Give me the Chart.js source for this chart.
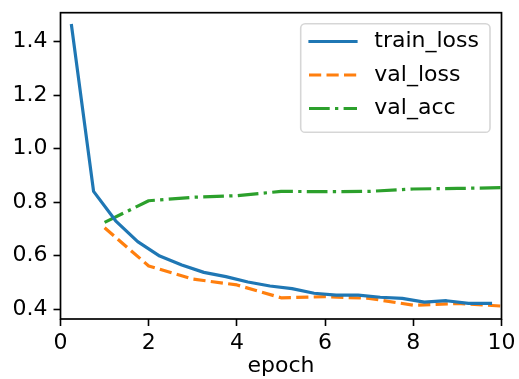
<!DOCTYPE html>
<html>
<head>
<meta charset="utf-8">
<script src="https://cdn.jsdelivr.net/npm/chart.js@4"></script>
<style>
  html, body { margin: 0; padding: 0; background: #ffffff; }
  canvas { display: block; }
</style>
</head>
<body>
<canvas id="c" width="519" height="379"></canvas>
<script>
// ---- data ----
const trainEpochs = [0.25, 0.75, 1.25, 1.75, 2.25, 2.75, 3.25, 3.75, 4.25, 4.75,
                     5.25, 5.75, 6.25, 6.75, 7.25, 7.75, 8.25, 8.75, 9.25, 9.75];
const trainLoss   = [1.46, 0.84, 0.73, 0.652, 0.598, 0.565, 0.537, 0.521, 0.501, 0.486,
                     0.476, 0.459, 0.452, 0.452, 0.444, 0.44, 0.426, 0.431, 0.421, 0.421];
const valEpochs   = [1, 2, 3, 4, 5, 6, 7, 8, 9, 10];
const valLoss     = [0.704, 0.561, 0.512, 0.49, 0.442, 0.446, 0.44, 0.414, 0.421, 0.411];
const valAcc      = [0.724, 0.805, 0.818, 0.824, 0.840, 0.839, 0.840, 0.849, 0.851, 0.854];
const seriesNames = ['train_loss', 'val_loss', 'val_acc'];
const xTicks = [0, 2, 4, 6, 8, 10];
const yTicks = [0.4, 0.6, 0.8, 1.0, 1.2, 1.4];
const xTitle = 'epoch';

const FONT = '"DejaVu Sans", sans-serif';
const pts = (xs, ys) => xs.map((x, i) => ({ x: x, y: ys[i] }));

const framePlugin = {
  id: 'frameAndLegend',
  afterDatasetsDraw(chart) {
    const ctx = chart.ctx, a = chart.chartArea;
    ctx.save();
    ctx.strokeStyle = '#000';
    ctx.lineWidth = 1.7;
    ctx.strokeRect(a.left, a.top, a.right - a.left, a.bottom - a.top);
    // legend (upper right)
    const bx = 300.7, by = 23.7, bw = 189.3, bh = 108.6, r = 4.4;
    ctx.beginPath();
    ctx.moveTo(bx + r, by);
    ctx.lineTo(bx + bw - r, by);
    ctx.arcTo(bx + bw, by, bx + bw, by + r, r);
    ctx.lineTo(bx + bw, by + bh - r);
    ctx.arcTo(bx + bw, by + bh, bx + bw - r, by + bh, r);
    ctx.lineTo(bx + r, by + bh);
    ctx.arcTo(bx, by + bh, bx, by + bh - r, r);
    ctx.lineTo(bx, by + r);
    ctx.arcTo(bx, by, bx + r, by, r);
    ctx.closePath();
    ctx.fillStyle = 'rgba(255,255,255,0.8)';
    ctx.fill();
    ctx.strokeStyle = 'rgba(204,204,204,0.8)';
    ctx.lineWidth = 1.6;
    ctx.stroke();
    const rows = [41.5, 75, 108.5];
    chart.data.datasets.forEach((ds, i) => {
      const y = rows[i];
      ctx.beginPath();
      ctx.setLineDash(ds.borderDash || []);
      ctx.lineCap = ds.borderCapStyle || 'butt';
      ctx.strokeStyle = ds.borderColor;
      ctx.lineWidth = ds.borderWidth;
      ctx.moveTo(ds.borderCapStyle === 'square' ? 310 : 309, y);
      ctx.lineTo(ds.borderCapStyle === 'square' ? 356 : 357, y);
      ctx.stroke();
      ctx.setLineDash([]);
      ctx.fillStyle = '#000';
      ctx.font = '22px ' + FONT;
      ctx.textBaseline = 'middle';
      ctx.textAlign = 'left';
      ctx.fillText(ds.label, 374.3, y);
    });
    ctx.restore();
  }
};

new Chart(document.getElementById('c'), {
  type: 'line',
  data: {
    datasets: [
      { label: seriesNames[0], data: pts(trainEpochs, trainLoss), borderColor: '#1f77b4',
        borderWidth: 3.2, borderCapStyle: 'square', borderJoinStyle: 'round', pointRadius: 0, fill: false },
      { label: seriesNames[1], data: pts(valEpochs, valLoss), borderColor: '#ff7f0e',
        borderWidth: 3.2, borderDash: [12.2, 5.3], borderCapStyle: 'butt', borderJoinStyle: 'round', pointRadius: 0, fill: false },
      { label: seriesNames[2], data: pts(valEpochs, valAcc), borderColor: '#2ca02c',
        borderWidth: 3.2, borderDash: [20.7, 5.3, 3.3, 5.3], borderCapStyle: 'butt', borderJoinStyle: 'round', pointRadius: 0, fill: false }
    ]
  },
  options: {
    responsive: false,
    devicePixelRatio: 1,
    animation: false,
    layout: { padding: { left: 0, right: 17.5, top: 12.7, bottom: 0 } },
    plugins: { legend: { display: false }, tooltip: { enabled: false } },
    scales: {
      x: {
        type: 'linear', min: 0, max: 10,
        afterBuildTicks: (s) => { s.ticks = xTicks.map(v => ({ value: v })); },
        afterFit: (s) => { s.height = 60; s.paddingLeft = 0; s.paddingRight = 0; },
        ticks: { color: '#000', font: { family: FONT, size: 22 }, padding: 4, maxRotation: 0,
                 callback: (v) => String(v) },
        grid: { drawOnChartArea: false, drawTicks: true, tickLength: 7, tickWidth: 1.6, tickColor: '#000', color: '#000' },
        border: { display: false },
        title: { display: true, text: xTitle, color: '#000', font: { family: FONT, size: 22 }, padding: { top: 0, bottom: 0 } }
      },
      y: {
        type: 'linear', min: 0.3626, max: 1.5085,
        afterBuildTicks: (s) => { s.ticks = yTicks.map(v => ({ value: v })); },
        afterFit: (s) => { s.width = 60.5; s.paddingTop = 0; s.paddingBottom = 0; },
        ticks: { color: '#000', font: { family: FONT, size: 22 }, padding: 6,
                 callback: (v) => Number(v).toFixed(1) },
        grid: { drawOnChartArea: false, drawTicks: true, tickLength: 7, tickWidth: 1.6, tickColor: '#000', color: '#000' },
        border: { display: false }
      }
    }
  },
  plugins: [framePlugin]
});
</script>
</body>
</html>
